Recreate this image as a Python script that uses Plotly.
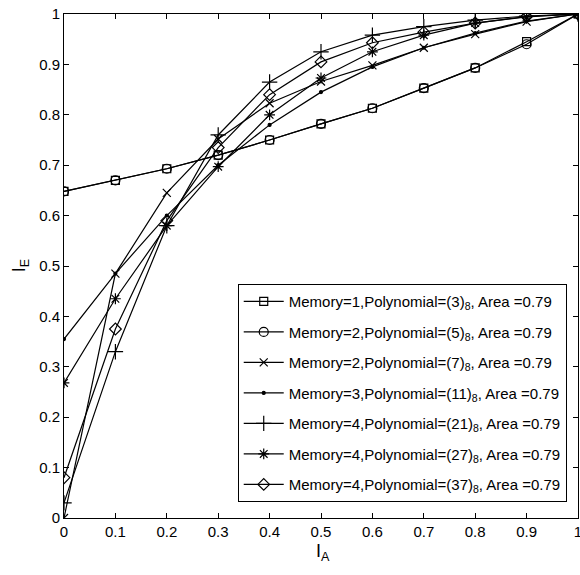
import plotly.graph_objects as go

x_vals = [0, 0.1, 0.2, 0.3, 0.4, 0.5, 0.6, 0.7, 0.8, 0.9, 1.0]

mem1_p3 = [0.648, 0.670, 0.693, 0.720, 0.750, 0.782, 0.813, 0.853, 0.893, 0.945, 1.0]
mem2_p5 = [0.648, 0.670, 0.693, 0.720, 0.750, 0.782, 0.813, 0.853, 0.893, 0.940, 1.0]
mem2_p7 = [0.0, 0.485, 0.645, 0.752, 0.823, 0.866, 0.898, 0.933, 0.960, 0.985, 1.0]
mem3_p11 = [0.355, 0.485, 0.600, 0.700, 0.780, 0.845, 0.895, 0.933, 0.962, 0.986, 1.0]
mem4_p21 = [0.030, 0.330, 0.580, 0.760, 0.865, 0.925, 0.958, 0.975, 0.988, 0.996, 1.0]
mem4_p27 = [0.268, 0.435, 0.580, 0.697, 0.800, 0.873, 0.925, 0.958, 0.982, 0.994, 1.0]
mem4_p37 = [0.080, 0.375, 0.590, 0.735, 0.840, 0.905, 0.943, 0.964, 0.982, 0.995, 1.0]

names = [
    "Memory=1,Polynomial=(3)<sub>8</sub>, Area =0.79",
    "Memory=2,Polynomial=(5)<sub>8</sub>, Area =0.79",
    "Memory=2,Polynomial=(7)<sub>8</sub>, Area =0.79",
    "Memory=3,Polynomial=(11)<sub>8</sub>, Area =0.79",
    "Memory=4,Polynomial=(21)<sub>8</sub>, Area =0.79",
    "Memory=4,Polynomial=(27)<sub>8</sub>, Area =0.79",
    "Memory=4,Polynomial=(37)<sub>8</sub>, Area =0.79",
]
series = [mem1_p3, mem2_p5, mem2_p7, mem3_p11, mem4_p21, mem4_p27, mem4_p37]
symbols = ["square-open", "circle-open", "x-thin-open", "circle", "cross-thin-open",
           "asterisk-open", "diamond-open"]
sizes = [8, 9, 8, 3, 11, 9, 9]

fig = go.Figure()
for i, (nm, ys, sym, sz) in enumerate(zip(names, series, symbols, sizes)):
    fig.add_trace(go.Scatter(
        x=x_vals, y=ys, name=nm, mode="lines+markers",
        line=dict(color="black", width=1.2),
        marker=dict(symbol=sym, size=sz, color="black",
                    line=dict(color="black", width=1.2)),
        legendgroup=f"g{i}",
    ))

axis_common = dict(
    range=[0, 1], dtick=0.1, tick0=0, ticks="inside", ticklen=5,
    tickcolor="black", showline=True, linecolor="black", linewidth=1,
    mirror="ticks", showgrid=False, zeroline=False, automargin=False,
    tickfont=dict(family="Liberation Sans, Arial", size=15, color="black"),
)
fig.update_layout(
    width=580, height=575,
    margin=dict(l=64, r=2, t=14, b=57, autoexpand=False),
    paper_bgcolor="white", plot_bgcolor="white",
    font=dict(family="Liberation Sans, Arial", color="black"),
    xaxis=dict(**axis_common, ticklabeloverflow="allow"),
    yaxis=dict(**axis_common),
    showlegend=True,
    legend=dict(
        x=0.338, y=0.464, xanchor="left", yanchor="top",
        bgcolor="white", bordercolor="black", borderwidth=1,
        font=dict(family="Liberation Sans, Arial", size=15, color="black"),
        tracegroupgap=8, itemwidth=40,
    ),
)
fig.add_annotation(text="I<sub>A</sub>", x=0.503, y=-0.068, xref="paper", yref="paper",
                   showarrow=False, font=dict(size=18), xanchor="center", yanchor="middle")
fig.add_annotation(text="I<sub>E</sub>", x=-0.085, y=0.5, xref="paper", yref="paper",
                   showarrow=False, font=dict(size=18), textangle=-90,
                   xanchor="center", yanchor="middle")
fig.write_html("out.html")
